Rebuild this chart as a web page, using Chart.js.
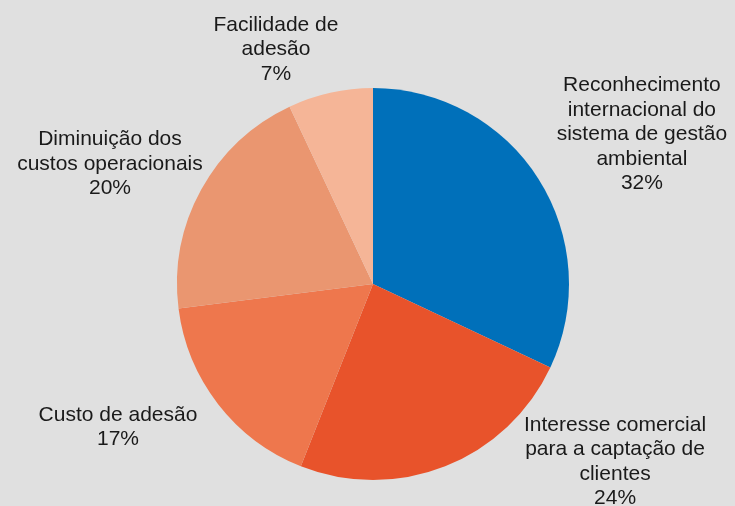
<!DOCTYPE html>
<html>
<head>
<meta charset="utf-8">
<script src="https://cdn.jsdelivr.net/npm/chart.js@4/dist/chart.umd.min.js"></script>
<style>
  html, body { margin: 0; padding: 0; background: #E0E0E0; }
  canvas { display: block; }
</style>
</head>
<body>
<canvas id="c" width="735" height="506"></canvas>
<script>
// ---- Data ----
const categories = [
  "Reconhecimento internacional do sistema de gestão ambiental",
  "Interesse comercial para a captação de clientes",
  "Custo de adesão",
  "Diminuição dos custos operacionais",
  "Facilidade de adesão"
];
const labelLines = [
  ["Reconhecimento", "internacional do", "sistema de gestão", "ambiental"],
  ["Interesse comercial", "para a captação de", "clientes"],
  ["Custo de adesão"],
  ["Diminuição dos", "custos operacionais"],
  ["Facilidade de", "adesão"]
];
const values = [32, 24, 17, 20, 7];
const colors = ["#0070BA", "#E8532B", "#EE774D", "#EA9670", "#F5B597"];

// label block centres, relative to pie centre, in units of the radius
const labelOffsets = [
  [1.372, -0.763],
  [1.235, 0.906],
  [-1.301, 0.730],
  [-1.342, -0.612],
  [-0.495, -1.196]
];

const bgPlugin = {
  id: 'bg',
  beforeDraw(chart) {
    const ctx = chart.ctx;
    ctx.save();
    ctx.fillStyle = '#E0E0E0';
    ctx.fillRect(0, 0, chart.width, chart.height);
    ctx.restore();
  }
};

const labelPlugin = {
  id: 'sliceLabels',
  afterDatasetsDraw(chart) {
    const ctx = chart.ctx;
    const meta = chart.getDatasetMeta(0);
    ctx.save();
    ctx.font = "21px 'Liberation Sans', Arial, sans-serif";
    ctx.fillStyle = '#1a1a1a';
    ctx.textAlign = 'center';
    ctx.textBaseline = 'middle';
    const lh = 24.5;
    meta.data.forEach((arc, i) => {
      const r = arc.outerRadius;
      const cx = arc.x + labelOffsets[i][0] * r;
      const cy = arc.y + labelOffsets[i][1] * r;
      const lines = labelLines[i].concat([values[i] + '%']);
      const y0 = cy - (lines.length - 1) * lh / 2;
      lines.forEach((t, k) => ctx.fillText(t, cx, y0 + k * lh));
    });
    ctx.restore();
  }
};

new Chart(document.getElementById('c'), {
  type: 'pie',
  data: {
    labels: categories,
    datasets: [{
      data: values,
      backgroundColor: colors,
      borderWidth: 0
    }]
  },
  options: {
    responsive: false,
    animation: false,
    layout: { padding: { left: 177, right: 166, top: 88, bottom: 26 } },
    plugins: {
      legend: { display: false },
      tooltip: { enabled: false }
    }
  },
  plugins: [bgPlugin, labelPlugin]
});
</script>
</body>
</html>
